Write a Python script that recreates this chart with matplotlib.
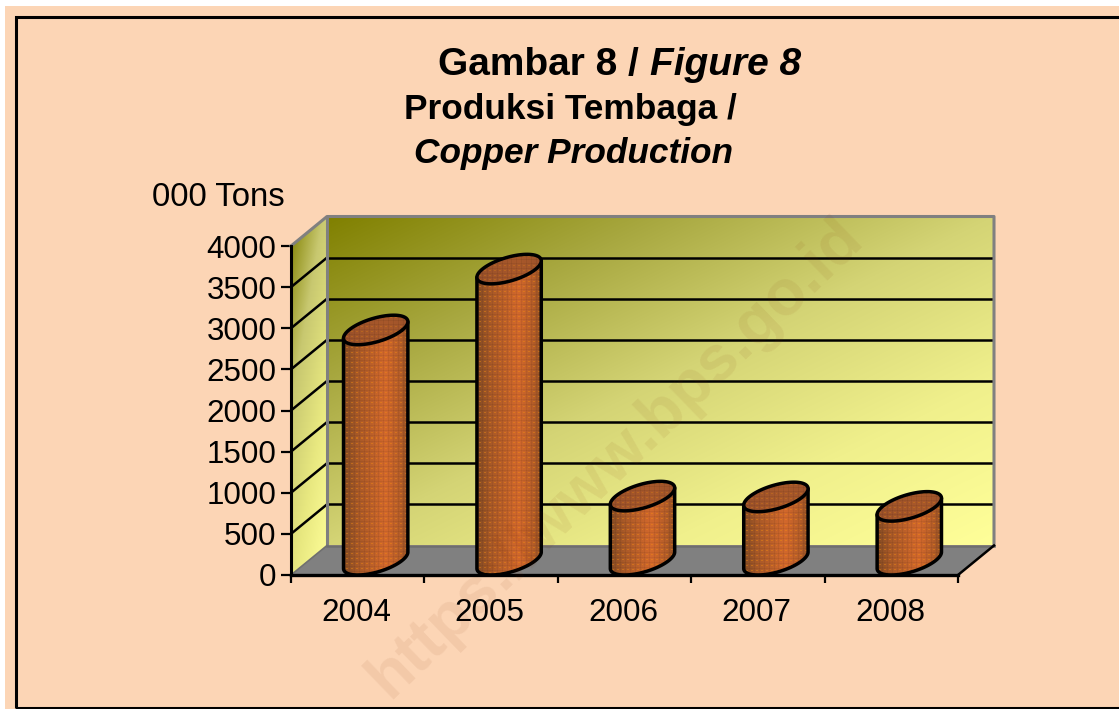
import numpy as np
import matplotlib
matplotlib.use("Agg")
import matplotlib.pyplot as plt
from matplotlib.patches import Polygon, Rectangle

plt.rcParams['font.family'] = ['Liberation Sans', 'DejaVu Sans']

years = ['2004', '2005', '2006', '2007', '2008']
production = [2800, 3540, 780, 770, 655]
y_ticks = [0, 500, 1000, 1500, 2000, 2500, 3000, 3500, 4000]

W, H = 1119, 709
PEACH = '#FCD5B5'
BAR_W = 0.4

fig = plt.figure(figsize=(W / 100, H / 100), dpi=100, facecolor='white')

# background and frame
fig.add_artist(Rectangle((5 / W, 0), 1, 1 - 6 / H, transform=fig.transFigure, fc=PEACH, ec='none', zorder=-2))
fig.add_artist(Rectangle((15.5 / W, 1.5 / H), 1.1, 1 - 18 / H, transform=fig.transFigure,
                         fc='none', ec='black', lw=2.2, zorder=-1))

# front plane of the 3d box
ax = fig.add_axes([291 / W, 1 - 575 / H, (958 - 291) / W, (575 - 246) / H])
ax.set_xlim(0, len(years))
ax.set_ylim(0, 4000)
ax.patch.set_alpha(0)
for s in ax.spines.values():
    s.set_visible(False)

# depth of the box in data units
dx = 36 / (667 / 5)
dy = 29.5 / 329 * 4000
x_max = len(years)
px_per_val = 329 / 4000


def gradient(ax, extent, colors, clip, zorder, angle=(1, 0), n=200):
    xs, ys = np.meshgrid(np.linspace(0, 1, n), np.linspace(0, 1, n))
    t = (xs * angle[0] + ys * angle[1]) / (angle[0] + angle[1])
    stops = np.array([matplotlib.colors.to_rgb(c) for c in colors])
    pos = np.linspace(0, 1, len(colors))
    img = np.dstack([np.interp(t, pos, stops[:, i]) for i in range(3)])
    im = ax.imshow(img, extent=extent, origin='upper', aspect='auto', zorder=zorder, interpolation='bilinear')
    im.set_clip_path(clip)
    im.set_clip_box(fig.bbox)
    return im


# back wall
wall = Polygon([(dx, dy), (x_max + dx, dy), (x_max + dx, 4000 + dy), (dx, 4000 + dy)], fc='none', ec='none')
ax.add_patch(wall)
gradient(ax, (dx, x_max + dx, dy, 4000 + dy), ['#808000', '#A8A840', '#D4D475', '#F0F08C', '#FFFF99'], wall, 1,
         angle=(1, 1))

# side wall
side = Polygon([(0, 0), (dx, dy), (dx, 4000 + dy), (0, 4000)], fc='none', ec='none')
ax.add_patch(side)
gradient(ax, (0, dx, 0, 4000 + dy), ['#808000', '#C8C870', '#E8E880', '#FFFF99'], side, 1, angle=(0.6, 1))

# floor
ax.add_patch(Polygon([(0, 0), (dx, dy), (x_max + dx, dy), (x_max, 0)], fc='#808080', ec='none', zorder=2,
                     clip_on=False))

# grid lines
for v in y_ticks[1:-1]:
    ax.plot([dx, x_max + dx], [v + dy, v + dy], color='black', lw=1.8, zorder=3, clip_on=False,
            solid_capstyle='butt')
    ax.plot([0, dx], [v, v + dy], color='black', lw=1.8, zorder=3, clip_on=False)

# wall edges
ax.plot([0, dx, x_max + dx, x_max + dx], [4000, 4000 + dy, 4000 + dy, dy], color='#808080', lw=2.2,
        zorder=3, clip_on=False)
ax.plot([dx, dx], [dy, 4000 + dy], color='#808080', lw=2.2, zorder=3, clip_on=False)
ax.plot([dx, x_max + dx], [dy, dy], color='#6E6E6E', lw=1.8, zorder=3, clip_on=False)
ax.plot([0, dx], [0, dy], color='#707070', lw=1.2, zorder=3, clip_on=False)
ax.plot([x_max, x_max + dx], [0, dy], color='black', lw=1.8, zorder=3, clip_on=False)

# cylinders
t = np.linspace(0, 2 * np.pi, 181)
cos_t, sin_t = np.cos(t), np.sin(t)


def texture(dark, light, dots, n_y, n_x=66):
    # woven look of the original fill, one cell per pixel
    u = np.linspace(0, 1, n_x)
    shade = np.interp(u, [0, 0.2, 0.65, 0.88, 1], [0.0, 0.45, 1.0, 0.6, 0.15])
    img = np.zeros((n_y, n_x, 3))
    d = np.array(matplotlib.colors.to_rgb(dark))
    li = np.array(matplotlib.colors.to_rgb(light))
    o = np.array(matplotlib.colors.to_rgb(dots))
    for c in range(3):
        img[:, :, c] = d[c] + (li[c] - d[c]) * shade
    rows, cols = np.indices((n_y, n_x))
    img[(rows % 5 == 0)] *= 0.94
    img[(cols % 5 == 0)] *= 0.94
    mask = (rows % 5 == 2) & (cols % 5 >= 2) & (cols % 5 <= 3)
    img[mask] = img[mask] * 0.55 + o * 0.45
    return np.clip(img, 0, 1)


for i, v in enumerate(production):
    cx = i + 0.5 + dx / 2
    by = dy / 2
    ty = v + dy / 2
    ex = BAR_W / 2 * cos_t + dx / 2 * sin_t
    ey = dy / 2 * sin_t
    half = np.hypot(BAR_W / 2, dx / 2)
    # outline of the side: widest points of the ellipse at top and bottom
    i_r, i_l = np.argmax(ex), np.argmin(ex)
    lower = ey <= np.interp(ex, [ex[i_l], ex[i_r]], [ey[i_l], ey[i_r]])
    order = np.argsort(ex[lower])
    low_x, low_y = ex[lower][order], ey[lower][order]
    body_x = np.concatenate([cx + low_x, [cx + half, cx - half]])
    body_y = np.concatenate([by + low_y, [ty + ey[i_r], ty + ey[i_l]]])
    body = Polygon(np.column_stack([body_x, body_y]), closed=True, fc='none', ec='black', lw=2.5,
                   zorder=5, joinstyle='round', clip_on=False)
    ax.add_patch(body)
    im = ax.imshow(texture('#854C24', '#D2682C', '#F08A10', int((ty + dy) * px_per_val)),
                   extent=(cx - half, cx + half, 0, ty + dy), aspect='auto', zorder=4, interpolation='nearest')
    im.set_clip_path(body)
    im.set_clip_box(fig.bbox)
    top = Polygon(np.column_stack([cx + ex, ty + ey]), closed=True, fc='#A3562A', ec='none', zorder=6)
    ax.add_patch(top)
    top_im = ax.imshow(texture('#98502A', '#A8582A', '#D07818', 32),
                       extent=(cx - half, cx + half, ty - dy / 2, ty + dy / 2),
                       aspect='auto', zorder=6, interpolation='nearest')
    top_im.set_clip_path(top)
    top_im.set_clip_box(fig.bbox)
    ax.add_patch(Polygon(np.column_stack([cx + ex, ty + ey]), closed=True, fc='none', ec='black', lw=2.5, zorder=7,
                         clip_on=False))

ax.set_xlim(0, len(years))
ax.set_ylim(0, 4000)

# axes
ax.plot([0, 0], [0, 4000], color='black', lw=2.2, zorder=8, clip_on=False)
ax.plot([0, x_max], [0, 0], color='black', lw=2.4, zorder=8, clip_on=False)
ax.set_yticks(y_ticks)
ax.set_xticks(np.arange(len(years) + 1))
ax.set_xticklabels([])
ax.tick_params(axis='y', length=7, width=1.6, labelsize=22.6, pad=3.5)
ax.tick_params(axis='x', length=6, width=1.6, pad=0)
for i, y in enumerate(years):
    ax.annotate(y, (i + 0.5, 0), xytext=(-1, -27.5), textcoords='offset points', ha='center', va='center',
                fontsize=22.6, annotation_clip=False)

# titles
fig.text(650 / W, 1 - 65 / H, 'Gambar 8 / ', ha='right', va='center', fontsize=28, fontweight='bold')
fig.text(650 / W, 1 - 65 / H, 'Figure 8', ha='left', va='center', fontsize=28, fontweight='bold', style='italic')
fig.text(570 / W, 1 - 110 / H, 'Produksi Tembaga /', ha='center', va='center', fontsize=25.4, fontweight='bold')
fig.text(573 / W, 1 - 154 / H, 'Copper Production', ha='center', va='center', fontsize=25.4, fontweight='bold',
         style='italic')
fig.text(218 / W, 1 - 198 / H, '000 Tons', ha='center', va='center', fontsize=23.7)

# watermark
fig.text(615 / W, 1 - 458 / H, 'https://www.bps.go.id', ha='center', va='center', fontsize=46, fontweight='bold',
         rotation=44, rotation_mode='anchor', color='#7A2A00', alpha=0.07, zorder=20)

fig.savefig('out.png', dpi=100, facecolor=fig.get_facecolor())
